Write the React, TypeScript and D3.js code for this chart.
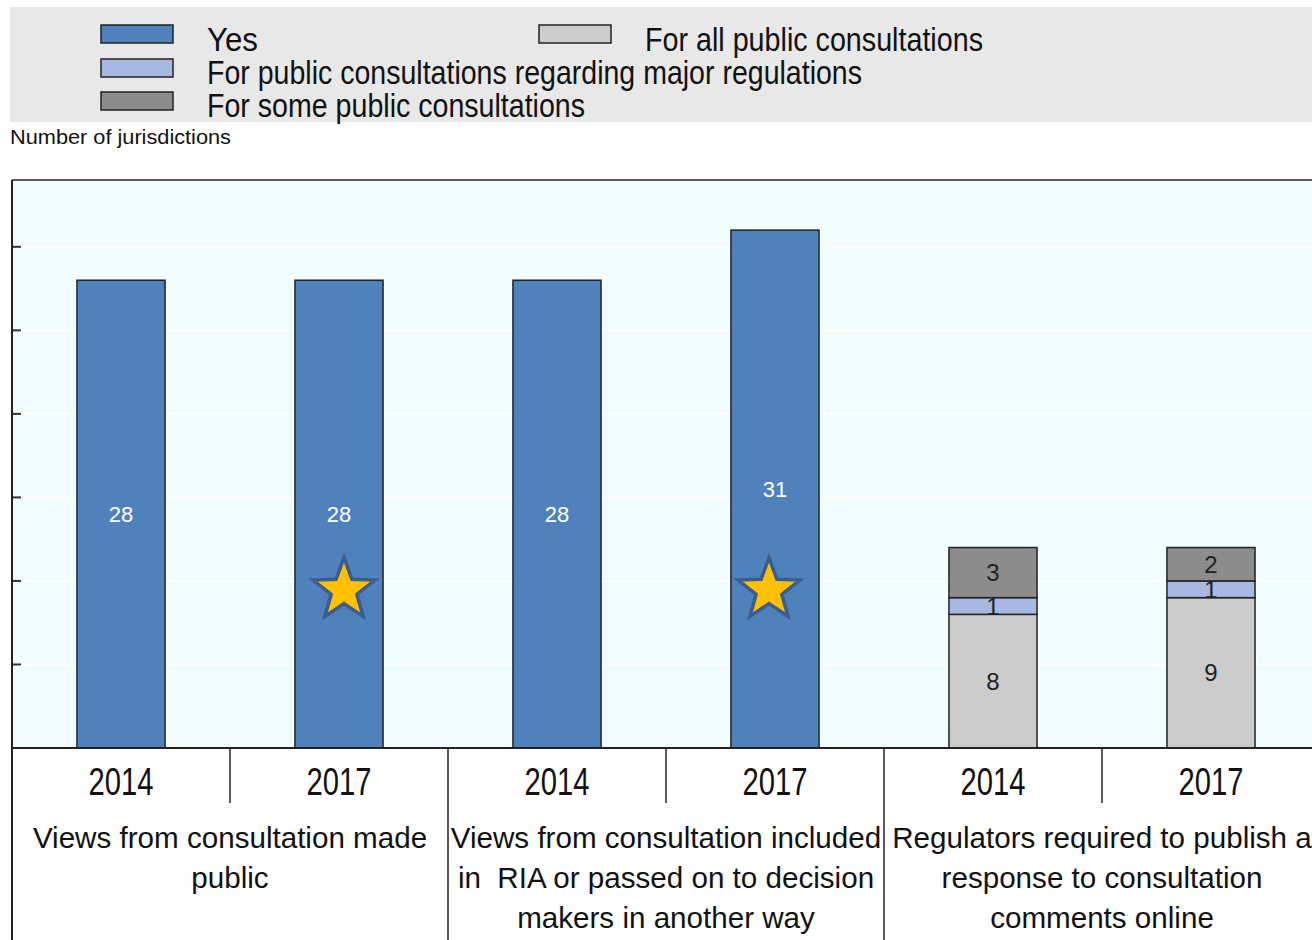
import React from "react";
import * as d3 from "d3";

const groups = [
  ["Views from consultation made", "public"],
  ["Views from consultation included", "in  RIA or passed on to decision", "makers in another way"],
  ["Regulators required to publish a", "response to consultation", "comments online"],
];
const years = ["2014", "2017"];
const slots = ["g0-2014", "g0-2017", "g1-2014", "g1-2017", "g2-2014", "g2-2017"];
const yesValues = [28, 28, 28, 31, 0, 0];
const allValues = [0, 0, 0, 0, 8, 9];
const majorValues = [0, 0, 0, 0, 1, 1];
const someValues = [0, 0, 0, 0, 3, 2];
const starSlots = [1, 3];
const starValue = 9.45;
const starOffsets = [5, -6];
const yTicks = [5, 10, 15, 20, 25, 30];

const legendItems = [
  { label: "Yes", color: "#4f81bd", x: 101, y: 25, tx: 207, ty: 51, tl: 51 },
  { label: "For public consultations regarding major regulations", color: "#a7b9e3", x: 101, y: 59, tx: 207, ty: 84, tl: 655 },
  { label: "For some public consultations", color: "#8c8c8c", x: 101, y: 92, tx: 207, ty: 117, tl: 378 },
  { label: "For all public consultations", color: "#cccccc", x: 539, y: 25, tx: 645, ty: 51, tl: 338 },
];

const COLORS = { yes: "#4f81bd", all: "#cccccc", major: "#a7b9e3", some: "#8c8c8c" };

function starPath(cx: number, cy: number, R: number, r: number) {
  const pts: [number, number][] = [];
  for (let i = 0; i < 10; i++) {
    const a = -Math.PI / 2 + (i * Math.PI) / 5;
    const rad = i % 2 === 0 ? R : r;
    pts.push([cx + rad * Math.cos(a), cy + rad * Math.sin(a)]);
  }
  return d3.line()(pts) + "Z";
}

export default function App() {
  const left = 12, right = 1320, top = 180, bottom = 748;
  const x = d3.scaleBand<string>().domain(slots).range([left, right]).paddingInner(0.596).paddingOuter(0.298);
  const y = d3.scaleLinear().domain([0, 34]).range([bottom, top]);
  const step = x.step();
  const bw = x.bandwidth();
  const font = "'Liberation Sans', Arial, sans-serif";

  const stackData = slots.map((s, i) => ({
    slot: s,
    yes: yesValues[i],
    all: allValues[i],
    major: majorValues[i],
    some: someValues[i],
  }));
  const keys = ["yes", "all", "major", "some"] as const;
  const stack = d3.stack<any>().keys(keys as any)(stackData);

  return (
    <svg width={1312} height={940} style={{ position: "absolute", left: 0, top: 0, background: "#fff" }} fontFamily={font}>
      {/* legend */}
      <rect x={10} y={7} width={1310} height={115} fill="#e8e8e8" />
      {legendItems.map((l) => (
        <g key={l.label}>
          <rect x={l.x} y={l.y} width={72} height={18} fill={l.color} stroke="#222" strokeWidth={1.5} />
          <text x={l.tx} y={l.ty} fontSize={33} fill="#111" textLength={l.tl} lengthAdjust="spacingAndGlyphs">{l.label}</text>
        </g>
      ))}
      <text x={10} y={144} fontSize={21} fill="#111" textLength={221} lengthAdjust="spacingAndGlyphs">Number of jurisdictions</text>

      {/* plot area */}
      <rect x={left} y={top} width={right - left} height={bottom - top} fill="#f2fdff" />
      {yTicks.map((t) => (
        <g key={t}>
          <line x1={left} x2={right} y1={y(t)} y2={y(t)} stroke="#ffffff" strokeWidth={1.5} />
          <line x1={left} x2={left + 9} y1={y(t)} y2={y(t)} stroke="#333" strokeWidth={2} />
        </g>
      ))}

      {/* bars */}
      {stack.map((layer) =>
        layer.map((d, i) => {
          const v = d[1] - d[0];
          if (v <= 0) return null;
          const key = layer.key as keyof typeof COLORS;
          const bx = x(slots[i])!;
          const y0 = y(d[0]), y1 = y(d[1]);
          return (
            <g key={key + i}>
              <rect x={bx} y={y1} width={bw} height={y0 - y1} fill={COLORS[key]} stroke="#222" strokeWidth={1.5} />
              <text
                x={bx + bw / 2}
                y={(y0 + y1) / 2}
                dy="0.36em"
                textAnchor="middle"
                fontSize={key === "yes" ? 22 : 24}
                fill={key === "yes" ? "#ffffff" : "#222"}
              >
                {v}
              </text>
            </g>
          );
        })
      )}

      {/* stars */}
      {starSlots.map((si, k) => (
        <path
          key={si}
          d={starPath(x(slots[si])! + bw / 2 + starOffsets[k], y(starValue), 32.5, 13.5)}
          fill="#ffc000"
          stroke="#3a5d8e"
          strokeWidth={3.5}
          strokeLinejoin="miter"
        />
      ))}

      {/* frame */}
      <line x1={left} x2={right} y1={top} y2={top} stroke="#222" strokeWidth={1.5} />
      <line x1={left} x2={right} y1={bottom} y2={bottom} stroke="#222" strokeWidth={2} />
      <line x1={left} x2={left} y1={top} y2={940} stroke="#222" strokeWidth={2} />

      {/* x axis: years */}
      {slots.map((s, i) => (
        <text key={s} x={x(s)! + bw / 2} y={795} textAnchor="middle" fontSize={38} fill="#111" textLength={65} lengthAdjust="spacingAndGlyphs">
          {years[i % 2]}
        </text>
      ))}
      {groups.map((g, gi) => {
        const gx0 = left + gi * 2 * step;
        const gc = gx0 + step;
        return (
          <g key={gi}>
            <line x1={gc} x2={gc} y1={bottom} y2={803} stroke="#222" strokeWidth={1.5} />
            <line x1={gx0 + 2 * step} x2={gx0 + 2 * step} y1={bottom} y2={940} stroke="#222" strokeWidth={1.5} />
            {g.map((line, li) => (
              <text key={li} x={gc} y={848 + li * 40} textAnchor="middle" fontSize={29.6} fill="#111" style={{ whiteSpace: "pre" }}>
                {line}
              </text>
            ))}
          </g>
        );
      })}
    </svg>
  );
}
